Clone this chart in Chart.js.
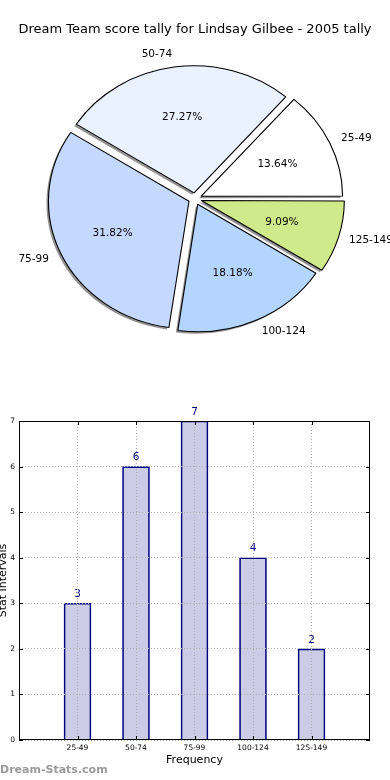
<!DOCTYPE html>
<html>
<head>
<meta charset="utf-8">
<script src="https://cdn.jsdelivr.net/npm/chart.js@4.4.1/dist/chart.umd.min.js"></script>
<style>
  html, body { margin: 0; padding: 0; background: #fff; width: 390px; height: 780px; overflow: hidden; }
  canvas { position: absolute; }
  #pieShadow { left: -2px; top: 2px; }
  #pieChart { left: 0; top: 0; }
  #barChart { left: 0; top: 400px; }
</style>
</head>
<body>
<canvas id="pieShadow" width="390" height="360"></canvas>
<canvas id="pieChart" width="390" height="360"></canvas>
<canvas id="barChart" width="390" height="380"></canvas>
<script>
const TITLE = 'Dream Team score tally for Lindsay Gilbee - 2005 tally';
const categories = ['25-49', '50-74', '75-99', '100-124', '125-149'];
const frequency = [3, 6, 7, 4, 2];
const sliceColors = ['#ffffff', '#ebf2ff', '#c5d8ff', '#b3d5ff', '#cfea8a'];
const yTicks = [0, 1, 2, 3, 4, 5, 6, 7];
const xTicks = [0, 1, 2, 3, 4];

const EXPLODE = 24;      // chart.js arc offset, moves each slice by EXPLODE / 4 px
const X_STRETCH = 1.102; // the original pie is a little wider than tall
const PIE_RADIUS = 127;

Chart.defaults.font.family = '"DejaVu Sans", sans-serif';
Chart.defaults.color = '#000';

// matplotlib lays the slices out counter-clockwise from 3 o'clock,
// chart.js goes clockwise, so feed the slices in reverse
const pieLabels = categories.slice().reverse();
const pieValues = frequency.slice().reverse();
const pieColors = sliceColors.slice().reverse();
const total = frequency.reduce((a, b) => a + b, 0);

const stretchPie = {
    id: 'stretchPie',
    beforeDatasetsDraw(chart) {
        const arc = chart.getDatasetMeta(0).data[0];
        const ctx = chart.ctx;
        ctx.save();
        ctx.translate(arc.x, arc.y);
        ctx.scale(X_STRETCH, 1);
        ctx.translate(-arc.x, -arc.y);
    },
    afterDatasetsDraw(chart) {
        chart.ctx.restore();
    },
};

const sliceText = {
    id: 'sliceText',
    afterDraw(chart) {
        const ctx = chart.ctx;
        const shift = EXPLODE / 4;
        ctx.save();
        ctx.fillStyle = '#000';
        ctx.font = '10.5px "DejaVu Sans"';
        ctx.textBaseline = 'middle';
        chart.getDatasetMeta(0).data.forEach((arc, i) => {
            const mid = (arc.startAngle + arc.endAngle) / 2;
            const c = Math.cos(mid);
            const s = Math.sin(mid);
            const at = (d) => [
                arc.x + c * (arc.outerRadius * d + shift) * X_STRETCH,
                arc.y + s * (arc.outerRadius * d + shift),
            ];
            let [px, py] = at(0.6);
            ctx.textAlign = 'center';
            ctx.fillText((pieValues[i] / total * 100).toFixed(2) + '%', px, py);
            [px, py] = at(1.1);
            ctx.textAlign = c >= 0 ? 'left' : 'right';
            ctx.fillText(pieLabels[i], px, py);
        });
        ctx.restore();
    },
};

function pieConfig(shadow) {
    return {
        type: 'pie',
        data: {
            labels: pieLabels,
            datasets: [{
                data: pieValues,
                backgroundColor: shadow ? 'rgba(0, 0, 0, 0.42)' : pieColors,
                borderColor: '#000',
                borderWidth: shadow ? 0 : 1,
                offset: EXPLODE,
            }],
        },
        options: {
            responsive: false,
            animation: false,
            rotation: 90,
            radius: PIE_RADIUS,
            layout: { padding: 0 },
            plugins: {
                legend: { display: false },
                tooltip: { enabled: false },
                title: {
                    display: true,
                    text: TITLE,
                    color: shadow ? 'rgba(0, 0, 0, 0)' : '#000',
                    font: { size: 13, weight: 'normal', lineHeight: 1.2 },
                    padding: { top: 22, bottom: 0 },
                },
            },
        },
        plugins: shadow ? [stretchPie] : [stretchPie, sliceText],
    };
}

new Chart(document.getElementById('pieShadow'), pieConfig(true));
new Chart(document.getElementById('pieChart'), pieConfig(false));

const barExtras = {
    id: 'barExtras',
    afterDatasetsDraw(chart) {
        const ctx = chart.ctx;
        ctx.save();
        ctx.fillStyle = '#000080';
        ctx.font = '10.5px "DejaVu Sans"';
        ctx.textAlign = 'center';
        ctx.textBaseline = 'middle';
        chart.getDatasetMeta(0).data.forEach((bar, i) => {
            ctx.fillText(String(frequency[i]), bar.x, bar.y - 9);
        });
        ctx.restore();
    },
    afterDraw(chart) {
        const ctx = chart.ctx;
        const { left, right, top, bottom } = chart.chartArea;
        const xs = chart.scales.x;
        const ys = chart.scales.y;
        ctx.save();
        ctx.strokeStyle = '#000';
        ctx.lineWidth = 1;
        ctx.strokeRect(left + 0.5, top + 0.5, right - left - 1, bottom - top - 1);

        // inward tick marks on all four sides
        ctx.beginPath();
        yTicks.forEach((v) => {
            const y = Math.round(ys.getPixelForValue(v)) + 0.5;
            ctx.moveTo(left, y); ctx.lineTo(left + 4, y);
            ctx.moveTo(right, y); ctx.lineTo(right - 4, y);
        });
        xTicks.forEach((v) => {
            const x = Math.round(xs.getPixelForValue(v)) + 0.5;
            ctx.moveTo(x, bottom); ctx.lineTo(x, bottom - 4);
            ctx.moveTo(x, top); ctx.lineTo(x, top + 4);
        });
        ctx.stroke();

        ctx.fillStyle = '#000';
        ctx.font = '11px "DejaVu Sans"';
        ctx.textAlign = 'center';
        ctx.textBaseline = 'middle';
        ctx.fillText('Frequency', (left + right) / 2, 360);

        ctx.save();
        ctx.translate(3, (top + bottom) / 2);
        ctx.rotate(-Math.PI / 2);
        ctx.fillText('Stat Intervals', 0, 0);
        ctx.restore();

        ctx.fillStyle = '#9a9a9a';
        ctx.font = 'bold 11px "DejaVu Sans"';
        ctx.textAlign = 'left';
        ctx.fillText('Dream-Stats.com', 0, 370);
        ctx.restore();
    },
};

new Chart(document.getElementById('barChart'), {
    type: 'bar',
    data: {
        datasets: [{
            data: frequency.map((v, i) => ({ x: xTicks[i], y: v })),
            backgroundColor: 'rgba(0, 0, 128, 0.2)',
            borderColor: '#000080',
            borderWidth: 1,
            barThickness: 27,
        }],
    },
    options: {
        responsive: false,
        animation: false,
        layout: { padding: { top: 21, right: 20, left: 0, bottom: 0 } },
        plugins: {
            legend: { display: false },
            tooltip: { enabled: false },
        },
        scales: {
            x: {
                type: 'linear',
                min: -1,
                max: 5,
                offset: false,
                afterBuildTicks(scale) { scale.ticks = xTicks.map((v) => ({ value: v })); },
                ticks: {
                    autoSkip: false,
                    maxRotation: 0,
                    padding: 4,
                    font: { size: 7.5 },
                    callback: (v) => categories[v] || '',
                },
                grid: { color: '#b0b0b0', drawTicks: false, offset: false, z: 1 },
                border: { display: false, dash: [1, 2], z: 2 },
                afterFit(scale) { scale.height = 40; },
            },
            y: {
                min: 0,
                max: 7,
                afterBuildTicks(scale) { scale.ticks = yTicks.map((v) => ({ value: v })); },
                ticks: { padding: 4, font: { size: 7.5 } },
                grid: { color: '#b0b0b0', drawTicks: false, z: 1 },
                border: { display: false, dash: [1, 2], z: 2 },
                afterFit(scale) { scale.width = 19; },
            },
        },
    },
    plugins: [barExtras],
});
</script>
</body>
</html>
